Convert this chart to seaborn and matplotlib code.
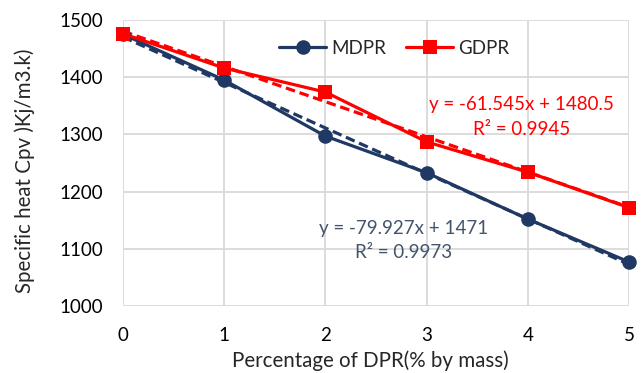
import matplotlib
matplotlib.use("Agg")
import matplotlib.pyplot as plt
import seaborn as sns
import pandas as pd

dpr_pct = [0, 1, 2, 3, 4, 5]
mdpr = [1475, 1395, 1297, 1233, 1152, 1077]
gdpr = [1476, 1416, 1374, 1287, 1234, 1172]
series_names = ["MDPR", "GDPR"]
eq_mdpr = ["y = -79.927x + 1471", "R² = 0.9973"]
eq_gdpr = ["y = -61.545x + 1480.5", "R² = 0.9945"]

NAVY = "#203864"
RED = "#FF0000"
EQ_GREY = "#44546A"
FS = 13.5
LFS = 14.8

sns.set_theme(style="white")
plt.rcParams["font.family"] = ["Lato", "DejaVu Sans"]

df = pd.DataFrame({
    "x": dpr_pct * 2,
    "y": mdpr + gdpr,
    "series": [series_names[0]] * len(mdpr) + [series_names[1]] * len(gdpr),
})

fig = plt.figure(figsize=(6.44, 3.73), dpi=100)
ax = fig.add_axes([123 / 644, 1 - 306 / 373, (629 - 123) / 644, (306 - 20) / 373])

# linear trend lines (dashed) behind the data lines
sns.regplot(x=dpr_pct, y=mdpr, ax=ax, ci=None, scatter=False, truncate=True,
            line_kws=dict(color=NAVY, ls=(0, (3, 1.5)), lw=2.3, zorder=2))
sns.regplot(x=dpr_pct, y=gdpr, ax=ax, ci=None, scatter=False, truncate=True,
            line_kws=dict(color=RED, ls=(0, (3, 1.5)), lw=2.3, zorder=2))

sns.lineplot(data=df, x="x", y="y", hue="series", style="series",
             palette={"MDPR": NAVY, "GDPR": RED},
             markers={"MDPR": "o", "GDPR": "s"}, dashes=False,
             markersize=10.5, markeredgewidth=0, lw=2.3, ax=ax, zorder=3)

for ln in ax.get_lines():
    ln.set_clip_on(False)
    if ln.get_marker() == "s":
        ln.set_markersize(9.5)

ax.set_xlim(0, 5)
ax.set_ylim(1000, 1500)
ax.set_xticks(range(0, 6))
ax.set_yticks(range(1000, 1501, 100))
ax.grid(True, color="#D9D9D9", lw=1.3)
for s in ax.spines.values():
    s.set_visible(False)
ax.tick_params(axis="both", length=0, labelsize=FS, colors="#000000")
ax.tick_params(axis="x", pad=15)
ax.tick_params(axis="y", pad=14)
ax.set_xlabel("Percentage of DPR(% by mass)", fontsize=LFS, va="center")
ax.set_ylabel("Specific heat Cpv )Kj/m3.k)", fontsize=LFS, va="center")
ax.xaxis.set_label_coords(0.488, -0.19)
ax.yaxis.set_label_coords(-0.194, 0.472)

leg = ax.legend(loc="center", bbox_to_anchor=(0.536, 0.902), ncol=2,
                frameon=False, fontsize=FS, handlelength=2.5, columnspacing=1.1,
                handletextpad=0.25, borderpad=0.2)
for h in leg.legend_handles:
    h.set_linewidth(2.3)
    h.set_markersize(10.5 if h.get_marker() == "o" else 9.5)

ax.text(3.94, 1352, eq_gdpr[0], color=RED, fontsize=FS, ha="center", va="center")
ax.text(3.94, 1308, eq_gdpr[1], color=RED, fontsize=FS, ha="center", va="center")
ax.text(2.77, 1136, eq_mdpr[0], color=EQ_GREY, fontsize=FS, ha="center", va="center")
ax.text(2.77, 1093, eq_mdpr[1], color=EQ_GREY, fontsize=FS, ha="center", va="center")

fig.savefig("out.png", dpi=100)
